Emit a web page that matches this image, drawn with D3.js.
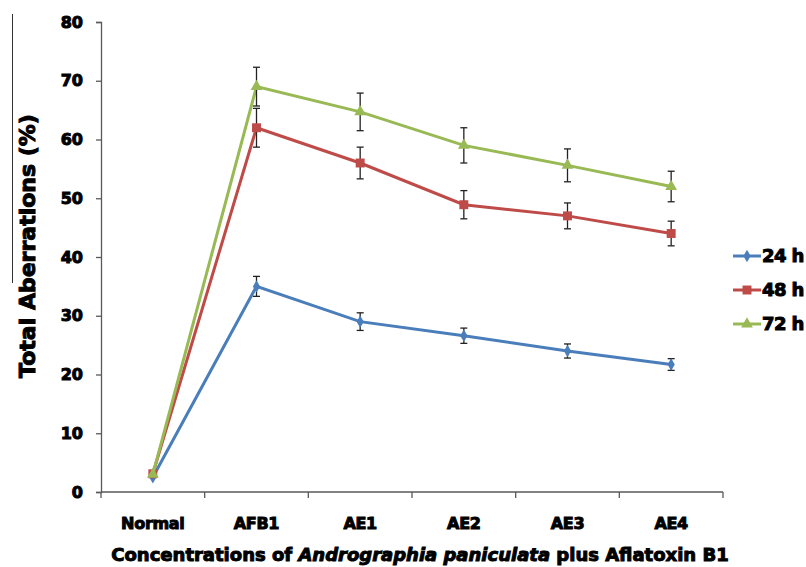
<!DOCTYPE html>
<html>
<head>
<meta charset="utf-8">
<script src="https://cdn.jsdelivr.net/npm/d3@7"></script>
<style>
  body { margin: 0; background: #fff; }
  text { font-family: "DejaVu Sans", sans-serif; font-weight: bold; fill: #000; }
</style>
</head>
<body>
<div id="chart"></div>
<script>
{ // start block scope

  const categories = ["Normal", "AFB1", "AE1", "AE2", "AE3", "AE4"];
  const yTicks = [0, 10, 20, 30, 40, 50, 60, 70, 80];

  const series = ["24 h", "48 h", "72 h"];
  const values24 = [2.5, 35.0, 29.0, 26.6, 24.0, 21.7];
  const errors24 = [0.3, 1.7, 1.5, 1.3, 1.2, 1.0];
  const values48 = [3.1, 62.0, 56.0, 48.9, 47.0, 44.0];
  const errors48 = [0.3, 3.3, 2.7, 2.4, 2.2, 2.1];
  const values72 = [3.0, 69.0, 64.7, 59.0, 55.6, 52.0];
  const errors72 = [0.3, 3.3, 3.2, 3.0, 2.8, 2.6];

  const color = {
    blue: "#4a7ebb",
    red: "#be4b48",
    green: "#98b954",
    axis: "#595959"
  };

  const width = 806;
  const height = 567;
  const margin = { top: 22, left: 101, bottom: 75, right: 83 };

  const svg = d3.select("#chart")
    .append("svg")
    .attr("width", width)
    .attr("height", height);

  // x scale
  const xScale = d3.scaleBand()
    .domain(categories)
    .range([margin.left, width - margin.right])
    .padding(0);

  // y scale
  const yScale = d3.scaleLinear()
    .domain([0, 80])
    .range([height - margin.bottom, margin.top]);

  // y axis
  const yAxis = d3.axisLeft(yScale)
    .tickValues(yTicks)
    .tickSize(5)
    .tickPadding(13)
    .tickFormat(d => d);
  const yAxisGroup = svg.append("g")
    .attr("transform", `translate(${margin.left}, 0)`)
    .call(yAxis);
  yAxisGroup.select(".domain").attr("stroke", color.axis).attr("stroke-width", 1.3);
  yAxisGroup.selectAll(".tick line").attr("stroke", color.axis).attr("stroke-width", 1.3);
  yAxisGroup.selectAll(".tick text")
    .attr("font-size", 16)
    .attr("font-family", "DejaVu Sans")
    .attr("font-weight", "bold")
    .attr("fill", "#000")
    .attr("stroke", "#000")
    .attr("stroke-width", 1);

  // x axis (ticks at category boundaries)
  const x0 = margin.left;
  const x1 = width - margin.right;
  const yBase = yScale(0);
  const xAxisGroup = svg.append("g");
  xAxisGroup.append("line")
    .attr("x1", x0).attr("x2", x1)
    .attr("y1", yBase).attr("y2", yBase)
    .attr("stroke", color.axis).attr("stroke-width", 1.3);
  const bounds = categories.map(c => xScale(c)).concat([xScale(categories[categories.length - 1]) + xScale.bandwidth()]);
  xAxisGroup.selectAll(".xtick")
    .data(bounds)
    .enter()
    .append("line")
    .attr("x1", d => d).attr("x2", d => d)
    .attr("y1", yBase).attr("y2", yBase + 6)
    .attr("stroke", color.axis).attr("stroke-width", 1.3);
  xAxisGroup.selectAll(".xlabel")
    .data(categories)
    .enter()
    .append("text")
    .attr("x", d => xScale(d) + xScale.bandwidth() / 2)
    .attr("y", 529)
    .attr("text-anchor", "middle")
    .attr("font-size", 16)
    .attr("stroke", "#000")
    .attr("stroke-width", 1)
    .attr("letter-spacing", -0.3)
    .text(d => d);

  // axis titles
  const xTitle = svg.append("text")
    .attr("x", (x0 + x1) / 2 + 8)
    .attr("y", 561)
    .attr("text-anchor", "middle")
    .attr("font-size", 18)
    .attr("stroke", "#000")
    .attr("stroke-width", 1);
  xTitle.append("tspan").text("Concentrations of ");
  xTitle.append("tspan").attr("font-style", "italic").text("Andrographia paniculata");
  xTitle.append("tspan").text(" plus Aflatoxin B1");

  svg.append("text")
    .attr("transform", `translate(35, 246) rotate(-90)`)
    .attr("text-anchor", "middle")
    .attr("font-size", 22)
    .attr("stroke", "#000")
    .attr("stroke-width", 1)
    .text("Total Aberrations (%)");

  // stray vertical line from the scan
  svg.append("line")
    .attr("x1", 12.5).attr("x2", 12.5)
    .attr("y1", 14).attr("y2", 283)
    .attr("stroke", "#333").attr("stroke-width", 1);

  const seriesData = [
    { name: series[0], values: values24, errors: errors24, color: color.blue, symbol: d3.symbolDiamond, size: 45 },
    { name: series[1], values: values48, errors: errors48, color: color.red, symbol: d3.symbolSquare, size: 80 },
    { name: series[2], values: values72, errors: errors72, color: color.green, symbol: d3.symbolTriangle, size: 60 }
  ];

  const xPos = i => xScale(categories[i]) + xScale.bandwidth() / 2;

  const line = d3.line()
    .x((d, i) => xPos(i))
    .y(d => yScale(d));

  seriesData.forEach(s => {
    const g = svg.append("g");
    g.append("path")
      .datum(s.values)
      .attr("d", line)
      .attr("fill", "none")
      .attr("stroke", s.color)
      .attr("stroke-width", 3);

    // error bars
    const eb = g.selectAll(".err")
      .data(s.values.map((v, i) => ({ v, e: s.errors[i], i })).filter(d => d.i > 0))
      .enter()
      .append("g")
      .attr("stroke", "#222")
      .attr("stroke-width", 1.3);
    eb.append("line")
      .attr("x1", d => xPos(d.i)).attr("x2", d => xPos(d.i))
      .attr("y1", d => yScale(d.v - d.e)).attr("y2", d => yScale(d.v + d.e));
    eb.append("line")
      .attr("x1", d => xPos(d.i) - 3.5).attr("x2", d => xPos(d.i) + 3.5)
      .attr("y1", d => yScale(d.v + d.e)).attr("y2", d => yScale(d.v + d.e));
    eb.append("line")
      .attr("x1", d => xPos(d.i) - 3.5).attr("x2", d => xPos(d.i) + 3.5)
      .attr("y1", d => yScale(d.v - d.e)).attr("y2", d => yScale(d.v - d.e));

    g.selectAll(".mark")
      .data(s.values)
      .enter()
      .append("path")
      .attr("d", d3.symbol().type(s.symbol).size(s.size))
      .attr("transform", (d, i) => `translate(${xPos(i)}, ${yScale(d)})`)
      .attr("fill", s.color);
  });

  // legend
  const legend = svg.append("g");
  seriesData.forEach((s, i) => {
    const ly = 256 + i * 34;
    legend.append("line")
      .attr("x1", 733).attr("x2", 761)
      .attr("y1", ly).attr("y2", ly)
      .attr("stroke", s.color).attr("stroke-width", 3);
    legend.append("path")
      .attr("d", d3.symbol().type(s.symbol).size(s.size))
      .attr("transform", `translate(747, ${ly})`)
      .attr("fill", s.color);
    legend.append("text")
      .attr("x", 762)
      .attr("y", ly + 6)
      .attr("font-size", 18)
      .attr("stroke", "#000")
      .attr("stroke-width", 1)
      .attr("letter-spacing", -0.6)
      .text(s.name);
  });

} // end block scope
</script>
</body>
</html>
